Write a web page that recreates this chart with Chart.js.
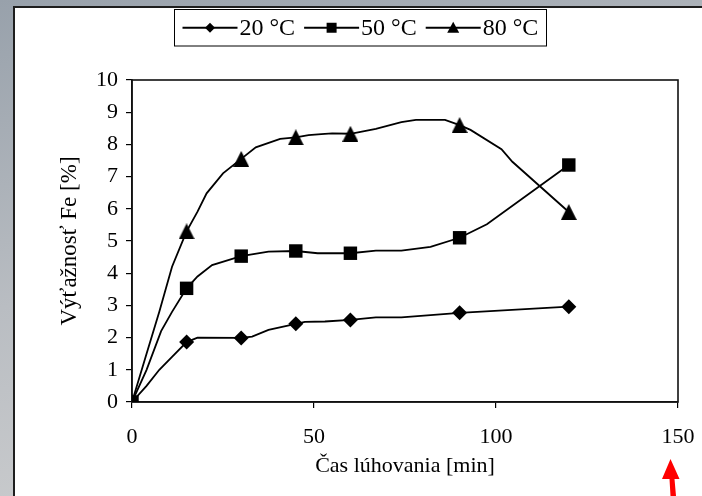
<!DOCTYPE html>
<html><head><meta charset="utf-8">
<script src="https://cdn.jsdelivr.net/npm/chart.js@4.4.1/dist/chart.umd.min.js"></script>
<style>
html,body{margin:0;padding:0;width:702px;height:496px;overflow:hidden}
body{background:linear-gradient(165deg,#98a1ab 0%,#b9bdc2 45%,#d4d4d4 100%);position:relative}
#panel{position:absolute;left:13px;top:6px;width:689px;height:490px;background:#fff;border-left:2px solid #1e1e1e;border-top:2px solid #1e1e1e;box-sizing:border-box}
#wrap{position:absolute;left:0;top:0;width:702px;height:496px}
</style></head><body>
<div id="panel"></div>
<div id="wrap"><canvas id="c" width="702" height="496"></canvas></div>
<script>
// ---- data ----
const seriesLabels = ['20 °C', '50 °C', '80 °C'];
const times = [0, 15, 30, 45, 60, 90, 120];
const y20 = [0, 1.86, 1.99, 2.43, 2.55, 2.77, 2.96];
const y50 = [0, 3.53, 4.53, 4.69, 4.62, 5.10, 7.36];
const y80 = [0, 5.30, 7.55, 8.22, 8.33, 8.60, 5.90];

// drawn curves (vertices)
const curveT20 = [0, 4, 7.5, 11, 15, 18, 30, 33, 37.5, 45, 47.5, 53, 60, 67, 74, 90, 120];
const curveV20 = [0, 0.5, 1.0, 1.4, 1.86, 2.0, 1.99, 2.03, 2.24, 2.43, 2.49, 2.5, 2.55, 2.63, 2.63, 2.77, 2.96];
const curveT50 = [0, 4, 8, 11, 15, 18, 22, 30, 37.5, 45, 51, 55, 60, 67, 74, 82, 90, 97.5, 120];
const curveV50 = [0, 1.0, 2.2, 2.8, 3.53, 3.9, 4.25, 4.53, 4.67, 4.69, 4.62, 4.62, 4.62, 4.70, 4.70, 4.82, 5.10, 5.52, 7.36];
const curveT80 = [0, 4, 7.5, 11, 15, 18, 20.5, 25, 30, 34, 40.7, 45, 48.5, 52, 55, 60, 67, 74, 78, 86, 90, 93, 101.5, 104.5, 120];
const curveV80 = [0, 1.5, 2.8, 4.2, 5.3, 5.91, 6.48, 7.1, 7.55, 7.91, 8.17, 8.22, 8.29, 8.32, 8.34, 8.33, 8.48, 8.69, 8.76, 8.76, 8.6, 8.45, 7.85, 7.46, 5.9];

const xTicks = [0, 50, 100, 150];
const yTicks = [0, 1, 2, 3, 4, 5, 6, 7, 8, 9, 10];
const xTitle = 'Čas lúhovania [min]';
const yTitle = 'Výťažnosť Fe [%]';

// ---- build ----
const pts = (xs, ys) => xs.map((x, i) => ({x: x, y: ys[i]}));
const FONT = '"Liberation Serif", "Times New Roman", serif';

function triangleImg(w, h) {
  const c = document.createElement('canvas');
  c.width = w; c.height = h;
  const g = c.getContext('2d');
  g.fillStyle = '#000';
  g.beginPath();
  g.moveTo(w / 2, 0);
  g.lineTo(w, h);
  g.lineTo(0, h);
  g.closePath();
  g.fill();
  return c;
}
const triBig = triangleImg(16, 16);

const markerStyles = [
  {pointStyle: 'rectRot', radius: 7.5},
  {pointStyle: 'rect', radius: 9.5},
  {pointStyle: triBig, radius: 8}
];
const markerData = [y20, y50, y80];
const curves = [[curveT20, curveV20], [curveT50, curveV50], [curveT80, curveV80]];

const datasets = [];
markerData.forEach((ys, i) => {
  datasets.push({
    label: seriesLabels[i],
    data: pts(times, ys),
    showLine: false,
    pointStyle: markerStyles[i].pointStyle,
    pointRadius: markerStyles[i].radius,
    pointBackgroundColor: '#000',
    pointBorderColor: '#000',
    pointBorderWidth: 0,
    order: 0
  });
});
curves.forEach((c, i) => {
  datasets.push({
    label: seriesLabels[i] + ' curve',
    data: pts(c[0], c[1]),
    showLine: true,
    borderColor: '#000',
    borderWidth: 1.8,
    pointRadius: 0,
    tension: 0,
    order: 1
  });
});

// legend drawn inside a framed box (uses marker datasets' labels)
const boxLegend = {
  id: 'boxLegend',
  afterDraw(chart) {
    const ctx = chart.ctx;
    ctx.save();
    ctx.font = '24px ' + FONT;
    const lineLen = 55, gapT = 2, gapItem = 9, padX = 8;
    const labels = chart.data.datasets.slice(0, 3).map(d => d.label);
    const widths = labels.map(l => ctx.measureText(l).width);
    let total = padX * 2 + labels.length * (lineLen + gapT) + widths.reduce((a, b) => a + b, 0) + gapItem * (labels.length - 1);
    const cx = 359.5, top = 9.5, h = 36.5;
    const left = Math.round(cx - total / 2) + 0.5;
    ctx.strokeStyle = '#000';
    ctx.lineWidth = 1;
    ctx.strokeRect(left, top, Math.round(total), h);
    const cy = top + h / 2;
    let x = left + padX;
    labels.forEach((l, i) => {
      ctx.strokeStyle = '#000';
      ctx.lineWidth = 1.8;
      ctx.beginPath();
      ctx.moveTo(x, cy);
      ctx.lineTo(x + lineLen, cy);
      ctx.stroke();
      const mx = x + lineLen / 2;
      ctx.fillStyle = '#000';
      ctx.beginPath();
      if (i === 0) {
        ctx.moveTo(mx, cy - 5); ctx.lineTo(mx + 5, cy); ctx.lineTo(mx, cy + 5); ctx.lineTo(mx - 5, cy);
      } else if (i === 1) {
        ctx.rect(mx - 5, cy - 5, 10, 10);
      } else {
        ctx.moveTo(mx, cy - 6); ctx.lineTo(mx + 6, cy + 5); ctx.lineTo(mx - 6, cy + 5);
      }
      ctx.closePath();
      ctx.fill();
      x += lineLen + gapT;
      ctx.fillStyle = '#000';
      ctx.textBaseline = 'middle';
      ctx.textAlign = 'left';
      ctx.fillText(l, x, cy + 1);
      x += widths[i] + gapItem;
    });
    ctx.restore();
  }
};

const frame = {
  id: 'frame',
  beforeDatasetsDraw(chart) {
    const a = chart.chartArea, ctx = chart.ctx;
    ctx.save();
    ctx.strokeStyle = '#111';
    ctx.lineWidth = 1.6;
    ctx.strokeRect(a.left, a.top, a.right - a.left, a.bottom - a.top);
    ctx.restore();
  }
};

const arrow = {
  id: 'arrow',
  afterDraw(chart) {
    const ctx = chart.ctx;
    ctx.save();
    ctx.fillStyle = '#ff0000';
    ctx.beginPath();
    ctx.moveTo(670.5, 459);
    ctx.lineTo(679.5, 479);
    ctx.lineTo(674.5, 479);
    ctx.lineTo(676, 496);
    ctx.lineTo(670.5, 496);
    ctx.lineTo(669.5, 479);
    ctx.lineTo(662, 479);
    ctx.closePath();
    ctx.fill();
    ctx.restore();
  }
};

new Chart(document.getElementById('c'), {
  type: 'scatter',
  data: {datasets: datasets},
  options: {
    responsive: false,
    animation: false,
    devicePixelRatio: 1,
    layout: {padding: {left: 0, top: 80, right: 24, bottom: 10}},
    plugins: {legend: {display: false}, tooltip: {enabled: false}},
    scales: {
      x: {
        type: 'linear', min: 0, max: 150,
        afterBuildTicks: s => { s.ticks = xTicks.map(v => ({value: v})); },
        afterFit: s => { s.height = 84; s.paddingLeft = 0; s.paddingRight = 0; },
        ticks: {font: {family: FONT, size: 22}, color: '#000', padding: 16},
        grid: {drawOnChartArea: false, drawTicks: true, tickLength: 6, color: '#000', lineWidth: 1.2},
        border: {display: true, color: '#111', width: 1.6},
        title: {display: true, text: xTitle, font: {family: FONT, size: 22}, color: '#000', padding: {top: 0, bottom: 7}}
      },
      y: {
        type: 'linear', min: 0, max: 10,
        afterBuildTicks: s => { s.ticks = yTicks.map(v => ({value: v})); },
        afterFit: s => { s.width = 132; s.paddingTop = 0; s.paddingBottom = 0; },
        ticks: {font: {family: FONT, size: 22}, color: '#000', padding: 8},
        grid: {drawOnChartArea: false, drawTicks: true, tickLength: 6, color: '#000', lineWidth: 1.2},
        border: {display: true, color: '#111', width: 1.6},
        title: {display: true, text: yTitle, font: {family: FONT, size: 23}, color: '#000', padding: {top: 56, bottom: 0}}
      }
    }
  },
  plugins: [frame, boxLegend, arrow]
});
</script>
</body></html>
